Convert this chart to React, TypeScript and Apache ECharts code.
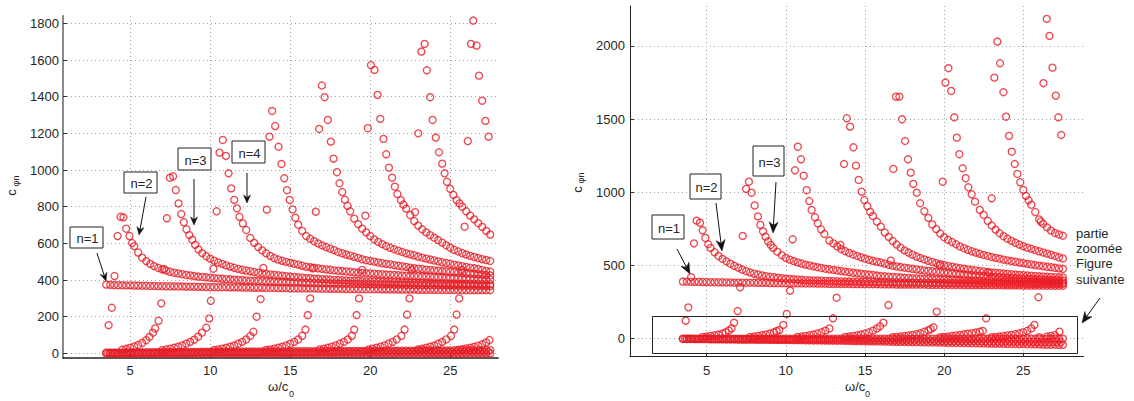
import React, { useEffect, useRef } from 'react';
import * as echarts from 'echarts';

// shared sampling grid of omega/c0 for the smooth (tail) parts of the branches
const GRID = [3.5,3.75,4,4.25,4.5,4.75,5,5.25,5.5,5.75,6,6.25,6.5,6.75,7,7.25,7.5,7.75,8,8.25,8.5,8.75,9,9.25,9.5,9.75,10,10.25,10.5,10.75,11,11.25,11.5,11.75,12,12.25,12.5,12.75,13,13.25,13.5,13.75,14,14.25,14.5,14.75,15,15.25,15.5,15.75,16,16.25,16.5,16.75,17,17.25,17.5,17.75,18,18.25,18.5,18.75,19,19.25,19.5,19.75,20,20.25,20.5,20.75,21,21.25,21.5,21.75,22,22.25,22.5,22.75,23,23.25,23.5,23.75,24,24.25,24.5,24.75,25,25.25,25.5,25.75,26,26.25,26.5,26.75,27,27.25,27.5];
// interleaved samples used by the bottom bands
const GRID_OFF = [3.625,3.875,4.125,4.375,4.625,4.875,5.125,5.375,5.625,5.875,6.125,6.375,6.625,6.875,7.125,7.375,7.625,7.875,8.125,8.375,8.625,8.875,9.125,9.375,9.625,9.875,10.125,10.375,10.625,10.875,11.125,11.375,11.625,11.875,12.125,12.375,12.625,12.875,13.125,13.375,13.625,13.875,14.125,14.375,14.625,14.875,15.125,15.375,15.625,15.875,16.125,16.375,16.625,16.875,17.125,17.375,17.625,17.875,18.125,18.375,18.625,18.875,19.125,19.375,19.625,19.875,20.125,20.375,20.625,20.875,21.125,21.375,21.625,21.875,22.125,22.375,22.625,22.875,23.125,23.375,23.625,23.875,24.125,24.375,24.625,24.875,25.125,25.375,25.625,25.875,26.125,26.375,26.625,26.875,27.125,27.375];

const X_TICKS = [5, 10, 15, 20, 25];
const L_Y_TICKS = [0, 200, 400, 600, 800, 1000, 1200, 1400, 1600, 1800];
const R_Y_TICKS = [0, 500, 1000, 1500, 2000];

// ---------------- left panel ----------------
const L_ROW0 = [0,0,0,0,0,0,0,0,0,0,0,0,0,0,0,0,0,0,0,0,0,0,0,0,0,0,0,0,0,0,0,0,0,0,0,0,0,0,0,0,0,0,0,0,0,0,0,0,0,0,0,0,0,0,0,0,0,0,0,0,0,0,0,0,0,0,0,0,0,0,0,0,0,0,0,0,0,0,0,0,0,0,0,0,0,0,0,0,0,0,0,0,0,0,0,0,0];
const L_ROW1 = [5,5,5,5,5,6,6,6,6,6,6,7,7,7,7,7,7,8,8,8,8,8,8,8,9,9,9,9,9,9,9,10,10,10,10,10,10,10,10,11,11,11,11,11,11,11,12,12,12,12,12,12,12,12,13,13,13,13,13,13,13,13,14,14,14,14,14,14,14,14,15,15,15,15,15,15,15,15,16,16,16,16,16,16,16,16,16,17,17,17,17,17,17,17,17,18,18];
const L_ROW2 = [2,2,2,2,3,3,3,3,3,3,3,3,4,4,4,4,4,4,4,4,4,4,5,5,5,5,5,5,5,5,5,5,5,5,6,6,6,6,6,6,6,6,6,6,6,6,7,7,7,7,7,7,7,7,7,7,7,7,8,8,8,8,8,8,8,8,8,8,8,8,8,8,9,9,9,9,9,9,9,9,9,9,9,9,9,9,9,10,10,10,10,10,10,10,10,10];
const L_N1 = [375,374,373,372,372,371,371,370,370,369,369,368,368,367,367,366,366,366,365,365,364,364,364,363,363,362,362,362,361,361,361,360,360,360,359,359,359,358,358,358,357,357,357,356,356,356,355,355,355,354,354,354,354,353,353,353,352,352,352,352,351,351,351,351,350,350,350,350,350,349,349,349,349,348,348,348,348,348,347,347,347,347,347,346,346,346,346,346,346,345,345,345,345,345,345,345,345];

const L_N2_HEAD = [[3.65,154],[3.85,249],[4.02,422],[4.21,640],[4.4,745],[4.58,742],[4.75,680],[4.95,640],[5.12,602]];
const L_N2_FROM = 5.25;
const L_N2_TAIL = [585,550,522,503,488,476,466,458,451,445,440,436,432,428,425,422,419,417,415,413,411,409,407,405,404,402,401,400,398,397,396,395,394,393,392,391,390,390,389,388,387,387,386,385,385,384,384,383,383,382,382,381,381,380,380,379,379,378,378,378,377,377,376,376,376,375,375,375,374,374,374,373,373,373,372,372,372,371,371,371,370,370,370,369,369,369,368,368,368,367];

const L_N3_HEAD = [[4.5,20],[4.75,25],[5,31],[5.25,38],[5.5,46],[5.75,57],[6,72],[6.2,90],[6.42,113],[6.56,136],[6.77,178],[6.94,273],[7.12,460],[7.29,737],[7.48,958],[7.68,966],[7.85,891],[8.02,818],[8.19,760],[8.35,715],[8.52,677],[8.7,645],[8.88,620],[9.06,592],[9.27,567],[9.5,547]];
const L_N3_FROM = 9.75;
const L_N3_TAIL = [530,517,506,496,488,480,473,467,461,456,452,448,444,440,437,434,431,428,426,424,421,419,417,415,413,411,410,408,407,405,404,403,401,400,399,398,397,396,395,394,393,392,392,391,390,389,389,388,387,387,386,385,385,384,384,383,383,382,382,381,381,380,380,380,379,379,378,378,378,377,377,377];

const L_N4_HEAD = [[7,18],[7.25,22],[7.5,26],[7.75,31],[8,37],[8.25,44],[8.5,53],[8.75,63],[9,75],[9.25,91],[9.48,113],[9.75,140],[9.94,191],[10.04,287],[10.2,462],[10.4,775],[10.58,1095],[10.79,1164],[10.98,1077],[11.15,982],[11.31,900],[11.5,837],[11.67,791],[11.83,745],[12.04,709],[12.25,673]];
const L_N4_FROM = 12.5;
const L_N4_TAIL = [630,603,580,562,546,532,520,512,505,499,494,489,484,478,473,470,467,464,461,458,456,453,451,449,447,445,443,441,439,438,436,435,433,432,430,429,428,427,425,424,423,422,421,420,419,418,417,416,415,414,413,412,411,410,409,408,407,406,405,404,403];

const L_N5_HEAD = [[10.25,19],[10.5,22],[10.75,26],[11,31],[11.25,37],[11.5,44],[11.75,53],[12,63],[12.25,76],[12.5,95],[12.7,118],[12.9,200],[13.15,296],[13.32,466],[13.54,784],[13.7,1182],[13.87,1322],[14.06,1240],[14.27,1127],[14.45,1033],[14.63,955],[14.8,890],[14.97,837],[15.15,785],[15.32,740],[15.5,702]];
const L_N5_FROM = 15.75;
const L_N5_TAIL = [668,640,625,612,600,589,580,571,563,553,546,539,533,527,521,513,508,504,500,496,492,488,485,481,478,475,472,468,465,462,460,457,455,453,451,449,447,445,443,441,439,437,435,433,431,429,427,425];

const L_N6_HEAD = [[13.5,19],[13.75,22],[14,26],[14.25,31],[14.5,37],[14.75,44],[15,53],[15.25,63],[15.5,76],[15.75,96],[15.95,130],[16.1,209],[16.25,300],[16.4,464],[16.6,773],[16.81,1224],[16.98,1461],[17.15,1397],[17.35,1273],[17.54,1155],[17.71,1062],[17.92,988],[18.08,928],[18.25,880],[18.42,838],[18.58,805]];
const L_N6_FROM = 18.75;
const L_N6_TAIL = [775,735,705,680,660,640,622,608,596,585,576,568,560,553,546,540,535,528,522,517,512,507,502,497,493,489,484,480,476,472,468,464,460,455,450,446];

const L_N7_HEAD = [[16.85,22],[17.1,26],[17.35,31],[17.6,37],[17.85,44],[18.1,53],[18.35,63],[18.6,76],[18.85,96],[19.0,130],[19.15,209],[19.3,300],[19.5,455],[19.7,751],[19.85,1228],[20.05,1572],[20.27,1546],[20.46,1410],[20.63,1279],[20.83,1170],[21,1086],[21.17,1013],[21.37,958],[21.54,909],[21.7,869],[21.92,836],[22.08,812]];
const L_N7_FROM = 22.25;
const L_N7_TAIL = [790,755,722,697,677,660,645,631,618,604,590,577,565,556,547,539,532,526,520,514,509,504];

const L_N8_HEAD = [[19.9,22],[20.15,26],[20.4,31],[20.65,37],[20.9,44],[21.15,53],[21.4,63],[21.65,76],[21.95,96],[22.15,130],[22.3,212],[22.45,300],[22.6,455],[22.8,770],[23,1200],[23.2,1646],[23.4,1688],[23.54,1544],[23.75,1397],[23.9,1273],[24.1,1177],[24.3,1097],[24.5,1035],[24.65,982],[24.8,936],[25,897],[25.2,864],[25.4,836],[25.58,818]];
const L_N8_FROM = 25.75;
const L_N8_TAIL = [800,775,752,731,710,690,668,648];

const L_N9_HEAD = [[23,22],[23.25,26],[23.5,31],[23.75,37],[24,44],[24.25,53],[24.5,63],[24.75,76],[25.05,96],[25.25,130],[25.4,212],[25.56,300],[25.72,455],[25.9,691],[26.1,1158],[26.3,1688],[26.44,1815],[26.65,1679],[26.8,1515],[27,1378],[27.2,1268],[27.4,1182]];
const L_N10_HEAD = [[25.5,20],[25.75,23],[26,27],[26.25,31],[26.5,36],[26.75,42],[27,50],[27.25,60],[27.45,73]];

// ---------------- right panel ----------------
const R_ROW0 = [0,0,0,0,0,0,0,0,0,0,0,0,0,0,0,0,0,0,0,0,0,0,0,0,0,0,0,0,0,0,0,0,0,0,0,0,0,0,0,0,0,0,0,0,0,0,0,0,0,0,0,0,0,0,0,0,0,0,0,0,0,0,0,0,0,0,0,0,0,0,0,0,0,0,0,0,0,0,0,0,0,0,0,0,0,0,0,0,0,0,0,0,0,0,0,0,0];
const R_ROW1 = [-2,-2,-2,-3,-3,-3,-3,-4,-4,-4,-4,-5,-5,-5,-5,-6,-6,-6,-6,-7,-7,-7,-8,-8,-8,-9,-9,-9,-10,-10,-10,-11,-11,-12,-12,-12,-13,-13,-14,-14,-14,-15,-15,-16,-16,-17,-17,-18,-18,-19,-19,-20,-20,-21,-21,-22,-22,-23,-23,-24,-24,-25,-25,-26,-26,-27,-27,-28,-28,-29,-29,-30,-30,-31,-31,-32,-32,-33,-33,-34,-34,-35,-35,-36,-36,-37,-37,-38,-38,-39,-39,-40,-40,-41,-41,-42,-42];
const R_ROW2 = [-1,-1,-1,-2,-2,-2,-2,-2,-3,-3,-3,-3,-3,-4,-4,-4,-4,-4,-5,-5,-5,-5,-5,-6,-6,-6,-6,-6,-7,-7,-7,-7,-7,-8,-8,-8,-8,-8,-9,-9,-9,-9,-9,-10,-10,-10,-10,-11,-11,-11,-11,-12,-12,-12,-12,-13,-13,-13,-13,-14,-14,-14,-14,-15,-15,-15,-15,-16,-16,-16,-16,-17,-17,-17,-17,-18,-18,-18,-18,-19,-19,-19,-19,-20,-20,-20,-20,-21,-21,-21,-21,-22,-22,-22,-22,-23];
const R_N1 = [390,389,389,388,388,387,387,386,386,385,385,384,384,383,383,383,382,382,382,381,381,381,380,380,380,379,379,379,378,378,378,377,377,377,376,376,376,375,375,375,374,374,374,373,373,373,372,372,372,372,371,371,371,371,370,370,370,370,369,369,369,369,368,368,368,368,367,367,367,367,367,366,366,366,366,366,365,365,365,365,365,364,364,364,364,364,363,363,363,363,363,362,362,362,362,362,362];

const R_N2_HEAD = [[3.68,123],[3.84,214],[4.02,420],[4.2,651],[4.37,806],[4.58,792],[4.75,740],[4.92,688],[5.1,645]];
const R_N2_FROM = 5.25;
const R_N2_TAIL = [620,590,565,545,528,512,498,485,472,461,452,444,438,432,427,423,419,416,413,410,408,406,404,402,400,399,398,397,396,395,394,393,392,391,390,390,389,389,388,388,387,387,386,386,385,385,385,384,384,384,383,383,383,382,382,382,381,381,381,380,380,380,380,379,379,379,379,378,378,378,378,377,377,377,377,376,376,376,376,376,375,375,375,375,375,374,374,374,374,374];

const R_N3_HEAD = [[4.75,12],[5,15],[5.25,19],[5.5,23],[5.75,28],[6,35],[6.2,44],[6.4,56],[6.58,71],[6.73,109],[6.96,189],[7.12,351],[7.28,702],[7.49,1023],[7.67,1072],[7.84,997],[8.03,910],[8.24,835],[8.39,777],[8.56,733],[8.72,697],[8.88,665],[9.05,640],[9.2,620],[9.46,594]];
const R_N3_FROM = 9.75;
const R_N3_TAIL = [570,552,540,530,521,513,506,500,494,488,483,478,474,470,466,462,458,454,450,447,444,441,438,435,431,428,426,424,422,420,418,416,415,413,412,410,409,408,406,405,404,403,402,401,400,399,398,397,396,396,395,394,393,393,392,391,391,390,390,389,389,388,388,387,387,386,386,386,385,385,384,384];

const R_N4_HEAD = [[7.75,12],[8,15],[8.25,19],[8.5,23],[8.75,28],[9,35],[9.25,44],[9.42,52],[9.59,59],[9.84,94],[10.06,169],[10.27,328],[10.43,679],[10.58,1150],[10.76,1311],[10.96,1225],[11.13,1113],[11.32,1014],[11.48,940],[11.63,879],[11.84,829],[12.02,788],[12.22,747],[12.43,715]];
const R_N4_FROM = 12.75;
const R_N4_TAIL = [670,651,630,612,598,586,575,565,556,547,539,532,526,520,512,505,499,494,489,485,481,477,473,469,466,463,460,457,454,451,448,446,443,441,438,436,434,432,430,428,426,424,422,420,419,417,415,414,412,411,409,408,406,405,404,402,401,400,399,398];

const R_N5_HEAD = [[10.75,12],[11,15],[11.25,19],[11.5,23],[11.75,28],[12,35],[12.25,44],[12.5,55],[12.75,70],[12.98,139],[13.21,280],[13.45,640],[13.68,1193],[13.85,1505],[14.06,1448],[14.27,1307],[14.43,1182],[14.6,1084],[14.79,1004],[14.96,947],[15.15,905],[15.33,866]];
const R_N5_FROM = 15.5;
const R_N5_TAIL = [838,800,765,725,695,667,643,622,603,588,574,561,551,541,532,524,516,509,503,497,492,487,482,478,473,469,466,462,459,456,453,450,447,445,442,440,438,436,434,432,430,428,426,425,423,422,420,419,418];

const R_N6_HEAD = [[13.75,12],[14,15],[14.25,19],[14.5,23],[14.75,28],[15,35],[15.25,44],[15.5,55],[15.75,70],[15.95,85],[16.16,109],[16.48,230],[16.63,533],[16.79,1159],[16.96,1653],[17.17,1653],[17.34,1498],[17.53,1350],[17.72,1225],[17.89,1134],[18.05,1057],[18.27,997],[18.48,925]];
const R_N6_FROM = 18.75;
const R_N6_TAIL = [870,825,780,748,718,693,675,660,645,630,618,607,597,588,580,572,565,558,552,546,540,535,530,525,520,516,511,507,503,499,495,491,488,484,480,477];

const R_N7_HEAD = [[16.75,10],[17,12],[17.25,15],[17.5,18],[17.75,22],[18,26],[18.25,31],[18.5,38],[18.75,47],[19,58],[19.15,66],[19.32,78],[19.53,185],[19.72,500],[19.91,1072],[20.08,1749],[20.27,1847],[20.44,1692],[20.64,1512],[20.8,1373],[20.96,1260],[21.17,1164],[21.36,1096],[21.53,1034],[21.74,986],[21.95,936]];
const R_N7_FROM = 22.25;
const R_N7_TAIL = [880,845,805,773,745,720,700,683,668,655,643,632,622,614,605,597,589,581,573,565,556,548];

const R_N8_HEAD = [[19.75,10],[20,12],[20.25,15],[20.5,18],[20.75,22],[21,26],[21.25,30],[21.5,34],[21.75,38],[22,42],[22.25,48],[22.44,53],[22.65,139],[22.82,450],[23,959],[23.17,1783],[23.36,2029],[23.53,1881],[23.74,1683],[23.91,1516],[24.1,1385],[24.27,1277],[24.46,1193],[24.62,1125],[24.81,1068],[25,1016],[25.17,975],[25.33,945]];
const R_N8_FROM = 25.5;
const R_N8_TAIL = [915,865,815,785,760,738,722,712,703];

const R_N9_HEAD = [[23,10],[23.25,12],[23.5,15],[23.75,18],[24,22],[24.25,26],[24.5,31],[24.75,37],[25,44],[25.25,54],[25.5,70],[25.7,94],[25.95,283],[26.1,800],[26.27,1745],[26.48,2184],[26.65,2068],[26.84,1851],[27.05,1660],[27.21,1512],[27.39,1391]];
const R_N10_HEAD = [[26,10],[26.5,15],[26.75,19],[27,25],[27.28,48]];

// ---------------- styling ----------------
const RED = '#e91c24';
const FONT = '"Liberation Sans", Arial, Helvetica, sans-serif';
const TXT = '#262626';

function onGrid(from: number, ys: number[]) {
  const i0 = GRID.indexOf(from);
  return ys.map((y, k) => [GRID[i0 + k], y]);
}

function onOffGrid(ys: number[]) {
  return ys.map((y, k) => [GRID_OFF[k], y]);
}

function sc(data: number[][], gi: number) {
  return {
    type: 'scatter',
    xAxisIndex: gi,
    yAxisIndex: gi,
    data,
    symbol: 'circle',
    symbolSize: 7,
    itemStyle: { color: 'rgba(255,255,255,0)', borderColor: RED, borderWidth: 1.35 },
    silent: true,
    animation: false,
    progressive: 0,
  };
}

const gridLine = { show: true, lineStyle: { color: '#a6a6a6', width: 1, type: [1, 3] } };

function xAxisDef(gi: number, min: number, max: number, lineColor: string, lineWidth: number, margin: number) {
  return {
    gridIndex: gi,
    type: 'value',
    min,
    max,
    axisLine: { show: true, onZero: false, lineStyle: { color: lineColor, width: lineWidth } },
    axisTick: { show: true, inside: true, length: 4, customValues: X_TICKS, lineStyle: { color: '#333' } },
    axisLabel: { customValues: X_TICKS, fontSize: 13, color: TXT, fontFamily: FONT, margin, formatter: (v: number) => String(v) },
    splitLine: gridLine,
  };
}

function yAxisDef(gi: number, min: number, max: number, ticks: number[], lineColor: string, lineWidth: number, margin: number) {
  return {
    gridIndex: gi,
    type: 'value',
    min,
    max,
    axisLine: { show: true, onZero: false, lineStyle: { color: lineColor, width: lineWidth } },
    axisTick: { show: true, inside: true, length: 4, customValues: ticks, lineStyle: { color: '#333' } },
    axisLabel: { customValues: ticks, fontSize: 13, color: TXT, fontFamily: FONT, margin, formatter: (v: number) => String(v) },
    splitLine: gridLine,
  };
}

function txt(text: string, x: number, y: number, size: number, align = 'center', rotation = 0) {
  return {
    type: 'text',
    x,
    y,
    rotation,
    z: 120,
    style: {
      text,
      fontSize: size,
      fontFamily: FONT,
      fill: TXT,
      align,
      verticalAlign: 'middle',
      textAlign: align,
      textVerticalAlign: 'middle',
    },
  };
}

function box(label: string, x0: number, y0: number, x1: number, y1: number) {
  return [
    {
      type: 'rect',
      z: 110,
      shape: { x: x0, y: y0, width: x1 - x0, height: y1 - y0 },
      style: { fill: '#fff', stroke: '#222', lineWidth: 1 },
    },
    txt(label, (x0 + x1) / 2 + 1, (y0 + y1) / 2 + 1, 13),
  ];
}

function arrow(x0: number, y0: number, x1: number, y1: number, L: number, W: number) {
  const dx = x1 - x0;
  const dy = y1 - y0;
  const len = Math.hypot(dx, dy);
  const ux = dx / len;
  const uy = dy / len;
  const nx = -uy;
  const ny = ux;
  const bx = x1 - ux * L;
  const by = y1 - uy * L;
  const mx = x1 - ux * L * 0.7;
  const my = y1 - uy * L * 0.7;
  return [
    {
      type: 'line',
      z: 110,
      shape: { x1: x0, y1: y0, x2: mx, y2: my },
      style: { stroke: '#111', lineWidth: 1 },
    },
    {
      type: 'polygon',
      z: 111,
      shape: { points: [[x1, y1], [bx + nx * W, by + ny * W], [mx, my], [bx - nx * W, by - ny * W]] },
      style: { fill: '#111', stroke: '#111', lineWidth: 0.5 },
    },
  ];
}

const leftSeries = [
  sc(onGrid(3.5, L_ROW0), 0),
  sc(onGrid(3.5, L_ROW1), 0),
  sc(onOffGrid(L_ROW2), 0),
  sc(onGrid(3.5, L_N1), 0),
  sc([...L_N2_HEAD, ...onGrid(L_N2_FROM, L_N2_TAIL)], 0),
  sc([...L_N3_HEAD, ...onGrid(L_N3_FROM, L_N3_TAIL)], 0),
  sc([...L_N4_HEAD, ...onGrid(L_N4_FROM, L_N4_TAIL)], 0),
  sc([...L_N5_HEAD, ...onGrid(L_N5_FROM, L_N5_TAIL)], 0),
  sc([...L_N6_HEAD, ...onGrid(L_N6_FROM, L_N6_TAIL)], 0),
  sc([...L_N7_HEAD, ...onGrid(L_N7_FROM, L_N7_TAIL)], 0),
  sc([...L_N8_HEAD, ...onGrid(L_N8_FROM, L_N8_TAIL)], 0),
  sc(L_N9_HEAD, 0),
  sc(L_N10_HEAD, 0),
];

const rightSeries = [
  sc(onGrid(3.5, R_ROW0), 1),
  sc(onGrid(3.5, R_ROW1), 1),
  sc(onOffGrid(R_ROW2), 1),
  sc(onGrid(3.5, R_N1), 1),
  sc([...R_N2_HEAD, ...onGrid(R_N2_FROM, R_N2_TAIL)], 1),
  sc([...R_N3_HEAD, ...onGrid(R_N3_FROM, R_N3_TAIL)], 1),
  sc([...R_N4_HEAD, ...onGrid(R_N4_FROM, R_N4_TAIL)], 1),
  sc([...R_N5_HEAD, ...onGrid(R_N5_FROM, R_N5_TAIL)], 1),
  sc([...R_N6_HEAD, ...onGrid(R_N6_FROM, R_N6_TAIL)], 1),
  sc([...R_N7_HEAD, ...onGrid(R_N7_FROM, R_N7_TAIL)], 1),
  sc([...R_N8_HEAD, ...onGrid(R_N8_FROM, R_N8_TAIL)], 1),
  sc(R_N9_HEAD, 1),
  sc(R_N10_HEAD, 1),
];

const graphics: any[] = [
  // axis names, left
  txt('c', 11.5, 192.5, 13, 'center', Math.PI / 2),
  txt('φn', 15.5, 181, 9, 'center', Math.PI / 2),
  txt('ω/c', 268, 386, 13, 'left'),
  txt('0', 289, 394, 9, 'left'),
  // axis names, right
  txt('c', 577, 189.5, 13, 'center', Math.PI / 2),
  txt('φn', 581, 178, 9, 'center', Math.PI / 2),
  txt('ω/c', 845, 386, 13, 'left'),
  txt('0', 865, 393.5, 9, 'left'),
  // left annotations
  ...box('n=1', 70, 227, 103, 248),
  ...arrow(97, 253, 106, 281, 8, 3.5),
  ...box('n=2', 124, 172, 157, 193),
  ...arrow(146, 197, 139, 235, 8, 3.5),
  ...box('n=3', 178, 148, 211, 170),
  ...arrow(194, 179, 194, 225, 8, 3.5),
  ...box('n=4', 232, 141, 265, 163),
  ...arrow(247, 173, 247, 203, 8, 3.5),
  // right annotations
  ...box('n=1', 652, 215, 684, 239),
  ...arrow(677, 249, 690, 274, 11, 4.5),
  ...box('n=2', 690, 174, 721, 199),
  ...arrow(716, 203, 722, 251, 11, 4.5),
  ...box('n=3', 753, 146, 784, 176),
  ...arrow(776, 182, 773, 233, 11, 4.5),
  {
    type: 'rect',
    z: 110,
    shape: { x: 652.5, y: 316.5, width: 425, height: 37 },
    style: { fill: 'none', stroke: '#222', lineWidth: 1 },
  },
  txt('partie', 1076, 233, 13, 'left'),
  txt('zoomée', 1076, 248, 13, 'left'),
  txt('Figure', 1076, 263, 13, 'left'),
  txt('suivante', 1076, 279, 13, 'left'),
  ...arrow(1100, 298, 1082, 323, 11, 4.5),
];

const option: any = {
  animation: false,
  backgroundColor: '#ffffff',
  textStyle: { fontFamily: FONT },
  grid: [
    { left: 63, top: 16, width: 435.2, height: 342 },
    { left: 630, top: 6, width: 453.5, height: 350.7 },
  ],
  xAxis: [
    xAxisDef(0, 0.8, 28, '#222', 1.5, 6),
    xAxisDef(1, 0.16, 28.8, '#222', 1, 7),
  ],
  yAxis: [
    yAxisDef(0, -25, 1840, L_Y_TICKS, '#8a8a8a', 2, 4),
    yAxisDef(1, -123, 2272, R_Y_TICKS, '#222', 1, 5),
  ],
  series: [...leftSeries, ...rightSeries],
  graphic: graphics,
};

export default function App() {
  const ref = useRef<HTMLDivElement>(null);
  useEffect(() => {
    const chart = echarts.init(ref.current as HTMLDivElement, null, { renderer: 'svg' });
    chart.setOption(option);
    return () => {
      chart.dispose();
    };
  }, []);
  return (
    <div
      ref={ref}
      style={{ position: 'fixed', left: 0, top: 0, width: 1134, height: 401, background: '#fff' }}
    />
  );
}
